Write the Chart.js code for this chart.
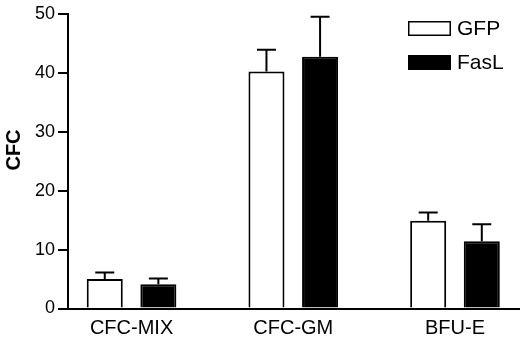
<!DOCTYPE html>
<html>
<head>
<meta charset="utf-8">
<script src="https://cdn.jsdelivr.net/npm/chart.js@4/dist/chart.umd.min.js"></script>
<style>
  html, body { margin: 0; padding: 0; background: #fff; }
  #wrap { width: 520px; height: 339px; }
</style>
</head>
<body>
<div id="wrap"><canvas id="cfcChart"></canvas></div>
<script>
const categories = ["CFC-MIX", "CFC-GM", "BFU-E"];
const seriesNames = ["GFP", "FasL"];
const gfpValues = [5.0, 40.2, 14.9];
const gfpErrors = [1.1, 3.7, 1.4];
const faslValues = [4.1, 42.7, 11.4];
const faslErrors = [1.0, 6.8, 2.9];
const yTicks = [0, 10, 20, 30, 40, 50];
const yTitle = "CFC";

const FONT = "'Liberation Sans', Arial, Helvetica, sans-serif";

// upper error bars only, drawn from the bar top
const errorBars = {
  id: "errorBars",
  afterDatasetsDraw(chart) {
    const ctx = chart.ctx;
    const yScale = chart.scales.y;
    ctx.save();
    ctx.strokeStyle = "#000";
    ctx.lineWidth = 2;
    chart.data.datasets.forEach((ds, di) => {
      chart.getDatasetMeta(di).data.forEach((bar, i) => {
        const top = yScale.getPixelForValue(ds.data[i].y + ds.errors[i]);
        ctx.beginPath();
        ctx.moveTo(bar.x, bar.y);
        ctx.lineTo(bar.x, top);
        ctx.moveTo(bar.x - 9.5, top);
        ctx.lineTo(bar.x + 9.5, top);
        ctx.stroke();
      });
    });
    ctx.restore();
  },
};

// legend boxes in the top right corner + rotated y title
const extras = {
  id: "extras",
  afterDraw(chart) {
    const ctx = chart.ctx;
    ctx.save();
    chart.data.datasets.forEach((ds, di) => {
      const top = 21 + di * 34;
      ctx.fillStyle = ds.backgroundColor;
      ctx.fillRect(408, top, 43, 15);
      ctx.strokeStyle = "#000";
      ctx.lineWidth = 1.5;
      ctx.strokeRect(408.75, top + 0.75, 41.5, 13.5);
      ctx.fillStyle = "#000";
      ctx.font = "21px " + FONT;
      ctx.textAlign = "left";
      ctx.textBaseline = "middle";
      ctx.fillText(ds.label, 457, top + 8.5);
    });

    ctx.translate(14, 150);
    ctx.rotate(-Math.PI / 2);
    ctx.font = "bold 20px " + FONT;
    ctx.textAlign = "center";
    ctx.textBaseline = "middle";
    ctx.fillText(yTitle, 0, 0);
    ctx.restore();
  },
};

new Chart(document.getElementById("cfcChart"), {
  type: "bar",
  data: {
    datasets: [
      {
        label: seriesNames[0],
        data: categories.map((c, i) => ({ x: i, y: gfpValues[i] })),
        errors: gfpErrors,
        backgroundColor: "#ffffff",
        borderColor: "#000000",
        borderWidth: 2,
      },
      {
        label: seriesNames[1],
        data: categories.map((c, i) => ({ x: i, y: faslValues[i] })),
        errors: faslErrors,
        backgroundColor: "#000000",
        borderColor: "#000000",
        borderWidth: 2,
      },
    ],
  },
  options: {
    responsive: true,
    maintainAspectRatio: false,
    animation: false,
    categoryPercentage: 0.663,
    barPercentage: 0.672,
    layout: { padding: { top: 12, right: 0, bottom: 0, left: 0 } },
    plugins: {
      legend: { display: false },
      tooltip: { enabled: false },
    },
    scales: {
      x: {
        type: "linear",
        offset: false,
        min: -0.393,
        max: 2.402,
        afterBuildTicks: (scale) => {
          scale.ticks = categories.map((c, i) => ({ value: i }));
        },
        afterFit: (scale) => {
          scale.height = 30.5;
        },
        grid: { display: false, drawTicks: false },
        border: { display: true, color: "#000", width: 2 },
        ticks: {
          autoSkip: false,
          maxRotation: 0,
          padding: 8,
          color: "#000",
          font: { family: FONT, size: 20 },
          callback: (value) => categories[value],
        },
      },
      y: {
        min: 0,
        max: 50,
        afterBuildTicks: (scale) => {
          scale.ticks = yTicks.map((v) => ({ value: v }));
        },
        afterFit: (scale) => {
          scale.width = 68;
        },
        grid: {
          drawOnChartArea: false,
          drawTicks: true,
          tickLength: 10,
          color: "#000",
          lineWidth: 2,
        },
        border: { display: true, color: "#000", width: 2 },
        ticks: {
          padding: 3,
          color: "#000",
          font: { family: FONT, size: 18 },
        },
      },
    },
  },
  plugins: [errorBars, extras],
});
</script>
</body>
</html>
